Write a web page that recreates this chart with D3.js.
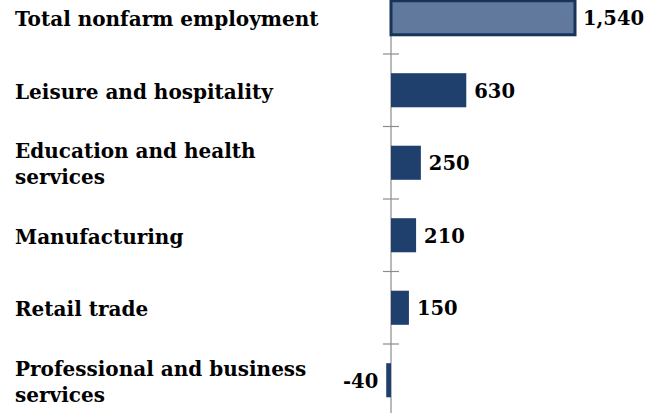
<!DOCTYPE html>
<html lang="en">
<head>
    <meta charset="UTF-8">
    <title>Employment change by industry</title>
    <script src="https://d3js.org/d3.v7.min.js"></script>
    <style>
        body { margin: 0; background: #fff; }
        svg text { font-family: "DejaVu Serif", "Liberation Serif", serif; font-weight: bold; fill: #000; }
        .cat { font-size: 20px; }
        .val { font-size: 19.5px; }
    </style>
</head>
<body>
<div id="chart"></div>
<script>
    // job change by industry (thousands)
    const categories = [
        ["Total nonfarm employment"],
        ["Leisure and hospitality"],
        ["Education and health", "services"],
        ["Manufacturing"],
        ["Retail trade"],
        ["Professional and business", "services"]
    ];
    const values = [1540, 630, 250, 210, 150, -40];
    const valueLabels = ["1,540", "630", "250", "210", "150", "-40"];

    const width = 660, height = 413;
    const zeroX = 391;
    const keys = categories.map((c, i) => i);

    const svg = d3.select("#chart").append("svg")
        .attr("width", width)
        .attr("height", height);

    const x = d3.scaleLinear()
        .domain([0, 1540])
        .range([zeroX, zeroX + 184]);

    const y = d3.scaleBand()
        .domain(keys)
        .range([-18.5, 416.5])
        .paddingInner(0.53)
        .paddingOuter(0.265);

    const step = y.step();

    // axis line and separator ticks
    svg.append("line")
        .attr("x1", x(0)).attr("x2", x(0))
        .attr("y1", 0).attr("y2", height)
        .attr("stroke", "#8c8c8c")
        .attr("stroke-width", 1.2);

    const boundaries = keys.slice(1).map(k => y(k) - (step - y.bandwidth()) / 2);
    svg.append("g").selectAll("line")
        .data(boundaries)
        .enter().append("line")
        .attr("x1", x(0) - 8).attr("x2", x(0) + 8)
        .attr("y1", d => d).attr("y2", d => d)
        .attr("stroke", "#8c8c8c")
        .attr("stroke-width", 1.2);

    // bars
    svg.append("g").selectAll("rect")
        .data(values)
        .enter().append("rect")
        .attr("x", d => x(Math.min(0, d)))
        .attr("y", (d, i) => y(i))
        .attr("width", d => Math.abs(x(d) - x(0)))
        .attr("height", y.bandwidth())
        .attr("fill", (d, i) => i === 0 ? "#60799c" : "#1f3f6d")
        .attr("stroke", (d, i) => i === 0 ? "#17335a" : "none")
        .attr("stroke-width", 3);

    // value labels
    svg.append("g").selectAll("text")
        .data(values)
        .enter().append("text")
        .attr("class", "val")
        .attr("x", d => d < 0 ? x(d) - 8 : x(d) + 8)
        .attr("y", (d, i) => y(i) + y.bandwidth() / 2)
        .attr("dy", "0.38em")
        .attr("text-anchor", d => d < 0 ? "end" : "start")
        .text((d, i) => valueLabels[i]);

    // category labels (one or two lines, centred on the bar)
    const lineH = 26;
    const cats = svg.append("g").selectAll("text")
        .data(categories)
        .enter().append("text")
        .attr("class", "cat")
        .attr("x", 15)
        .attr("y", (d, i) => y(i) + y.bandwidth() / 2 - (d.length - 1) * lineH / 2);

    cats.selectAll("tspan")
        .data(d => d)
        .enter().append("tspan")
        .attr("x", 15)
        .attr("dy", (d, j) => j === 0 ? "0.42em" : lineH)
        .text(d => d);
</script>
</body>
</html>
